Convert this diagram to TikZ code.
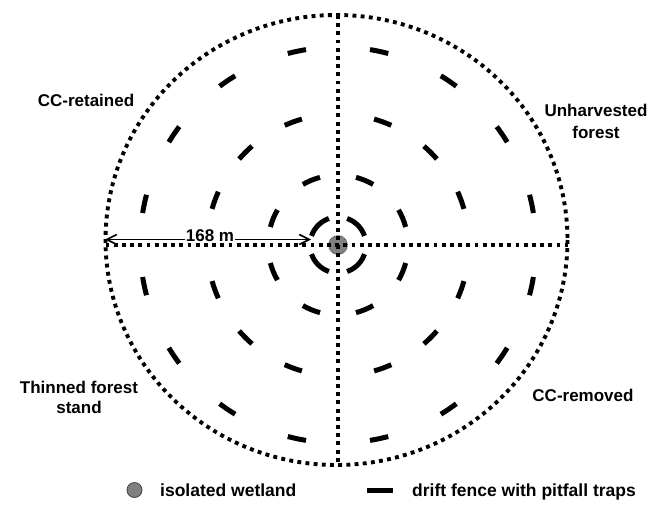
\documentclass[tikz,border=0pt]{standalone}
\usepackage{fontspec}
\setmainfont{Liberation Sans}
\usetikzlibrary{arrows.meta}
\begin{document}
\begin{tikzpicture}[x=1pt,y=-1pt,
  dotline/.style={line width=3.9pt, dash pattern=on 3.9pt off 4.3pt},
  fence/.style={line width=5pt},
  lbl/.style={font=\bfseries\fontsize{17}{21}\selectfont, inner sep=0pt, anchor=base},
  leg/.style={font=\bfseries\fontsize{17.5}{21}\selectfont, inner sep=0pt, anchor=base west},
  wet/.style={circle, fill=black!50, draw=black!75, line width=0.8pt, inner sep=0pt}]
\useasboundingbox (0,0) rectangle (660,508);

% outer boundary
\draw[dotline] (336.5,240) ellipse[x radius=231, y radius=225];

% drift fence rings
\begin{scope}[shift={(338,245)}]
  \foreach \q in {0,90,180,270}{
    \draw[fence] ({\q+45-26}:28) arc[start angle={\q+45-26}, end angle={\q+45+26}, radius=28];
    \foreach \a in {22.5,67.5}
      \draw[fence] ({\q+\a-7.6}:70) arc[start angle={\q+\a-7.6}, end angle={\q+\a+7.6}, radius=70];
    \foreach \a in {20,45,70}
      \draw[fence] ({\q+\a-4}:131) arc[start angle={\q+\a-4}, end angle={\q+\a+4}, radius=131];
    \foreach \a in {12,34,56,78}
      \draw[fence] ({\q+\a-2.7}:198) arc[start angle={\q+\a-2.7}, end angle={\q+\a+2.7}, radius=198];
  }
\end{scope}

% wetland
\node[wet, minimum size=19pt, densely dotted] (w) at (338,245) {};

% distance arrow
\coordinate (a1) at (105,239.5);
\coordinate (a2) at (311,239.5);
\draw[line width=1.6pt, {Straight Barb[length=10pt,width=10pt]}-{Straight Barb[length=10pt,width=10pt]}] (a1) -- (a2);
\node[lbl, fill=white, inner xsep=1pt, inner ysep=1pt] (dist) at (210,241) {168 m};

% axes
\coordinate (top) at (338,15);
\coordinate (bot) at (338,465);
\coordinate (lft) at (105.5,245);
\coordinate (rgt) at (567.5,245);
\draw[dotline] (top) -- (bot);
\draw[dotline] (lft) -- (rgt);

% labels
\node[lbl] (l1) at (86,106.5) {CC-retained};
\node[lbl] (l2a) at (596,117) {Unharvested};
\node[lbl] (l2b) at (596,138) {forest};
\node[lbl] (l3a) at (79,393) {Thinned forest};
\node[lbl] (l3b) at (79,413) {stand};
\node[lbl] (l4) at (583,401) {CC-removed};

% legend
\node[wet, minimum size=15pt] (legw) at (134.5,490) {};
\node[leg] (legwt) at (160,496) {isolated wetland};
\coordinate (d1) at (367,490);
\coordinate (d2) at (393,490);
\draw[fence] (d1) -- (d2);
\node[leg] (legdt) at (412,496) {drift fence with pitfall traps};
\end{tikzpicture}
\end{document}
